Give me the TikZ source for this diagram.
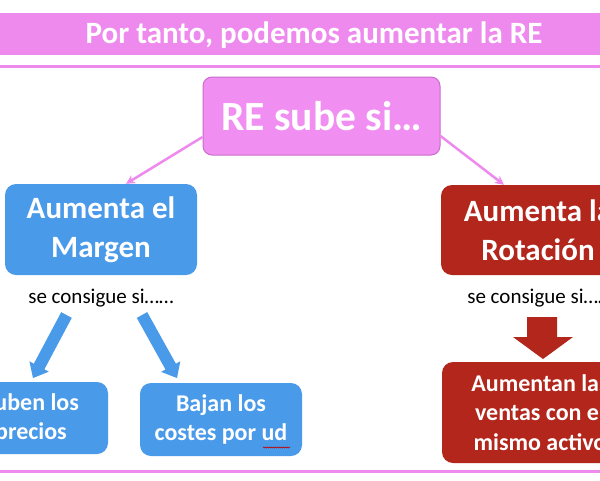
\documentclass[tikz,border=0pt]{standalone}
\usepackage{fontspec}
\setmainfont{Carlito}
\usetikzlibrary{arrows.meta,decorations.pathmorphing}
\definecolor{pinkband}{RGB}{238,138,238}
\definecolor{pinkbox}{RGB}{240,142,242}
\definecolor{pinkedge}{RGB}{200,110,205}
\definecolor{bluebox}{RGB}{74,154,234}
\definecolor{redbox}{RGB}{178,38,28}
\tikzset{
  boxbase/.style={rounded corners=11pt, align=center, text=white, font=\bfseries, inner sep=0pt},
  bluestyle/.style={boxbase, fill=bluebox},
  redstyle/.style={boxbase, fill=redbox},
  pinkarrow/.style={draw=pinkband, line width=2.5pt, -{Stealth[length=9pt,width=9pt]}},
  blockblue/.style={fill=bluebox, draw=none},
  blockred/.style={fill=redbox, draw=none},
  note/.style={font=\fontsize{21}{25}\selectfont, inner sep=0pt}
}
\begin{document}
\begin{tikzpicture}[x=1pt,y=-1pt]
\useasboundingbox (0,0) rectangle (600,480);
\clip (0,0) rectangle (600,480);
\fill[white] (0,0) rectangle (600,480);
% banner
\node[fill=pinkband, minimum width=610pt, minimum height=42pt, inner sep=0pt] (band) at (300,34) {};
\node[text=white, font=\bfseries\fontsize{31}{36}\selectfont, inner sep=0pt] (title) at (314,35) {Por tanto, podemos aumentar la RE};
\coordinate (lineL) at (0,66.5);
\coordinate (lineR) at (600,66.5);
\draw[pinkband, line width=3pt] (lineL) -- (lineR);
\coordinate (botL) at (0,471.5);
\coordinate (botR) at (600,471.5);
\draw[pinkband, line width=3pt] (botL) -- (botR);
% main box
\node[boxbase, fill=pinkbox, draw=pinkedge, line width=1pt, rounded corners=9pt, minimum width=237pt, minimum height=78pt, font=\bfseries\fontsize{41.5}{48}\selectfont] (re) at (321.5,116) {RE sube si…};
% level 2
\node[bluestyle, minimum width=192pt, minimum height=91pt, font=\bfseries\fontsize{31}{39}\selectfont] (margen) at (101,229.5) {Aumenta el\\Margen};
\node[redstyle, minimum width=194pt, minimum height=90pt, font=\bfseries\fontsize{31}{39}\selectfont] (rot) at (538,230) {Aumenta la\\Rotación};
\draw[pinkarrow] (re.west |- 0,137) -- (margen.north -| 126,0);
\draw[pinkarrow] (re.east |- 0,136) -- (rot.north -| 504,0);
\node[note] (sc1) at (101,298) {se consigue si……};
\node[note] (sc2) at (540,298) {se consigue si……};
% level 3
\node[bluestyle, minimum width=154pt, minimum height=72pt, font=\bfseries\fontsize{24}{29}\selectfont] (suben) at (31,418) {Suben los\\precios};
\node[bluestyle, minimum width=162pt, minimum height=73pt, font=\bfseries\fontsize{24}{29}\selectfont] (bajan) at (221,419.5) {Bajan los\\costes por ud};
\node[redstyle, minimum width=196pt, minimum height=101pt, font=\bfseries\fontsize{24}{29.5}\selectfont] (ventas) at (540,412.5) {Aumentan las\\ventas con el\\mismo activo};
% block arrows
\fill[blockblue] (61.2,312.2) -- (33.8,363.7) -- (29.4,361.3) -- (33,378) -- (48.8,371.7) -- (44.4,369.3) -- (71.8,317.8) -- cycle;
\fill[blockblue] (147.2,312.1) -- (175.9,363.7) -- (180.3,361.3) -- (177,378) -- (161.1,371.9) -- (165.5,369.5) -- (136.8,317.9) -- cycle;
\fill[blockred] (527,317) -- (557,317) -- (557,337) -- (573,337) -- (543,359) -- (513,337) -- (527,337) -- cycle;
% spelling underline
\coordinate (udL) at (263,447.5);
\coordinate (udR) at (290,447.5);
\draw[red!75!black, line width=0.5pt, decorate, decoration={zigzag, amplitude=0.6pt, segment length=2pt}] (udL) -- (udR);
\end{tikzpicture}
\end{document}
